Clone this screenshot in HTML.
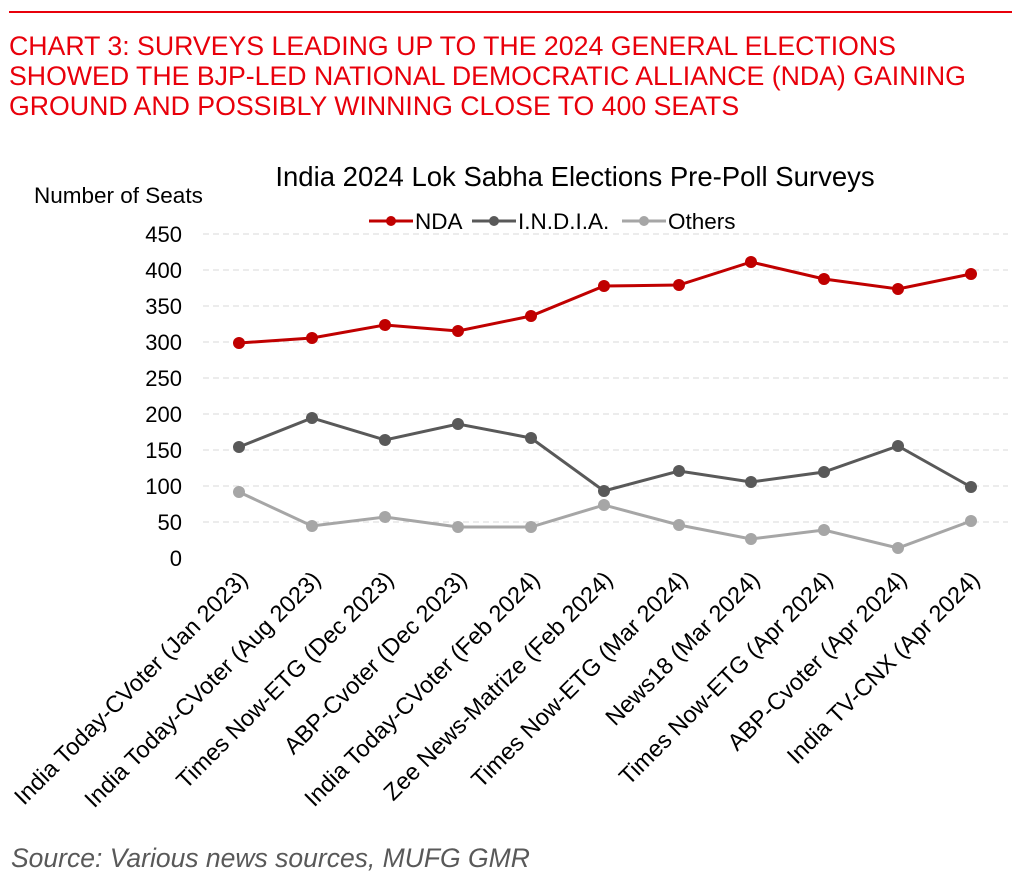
<!DOCTYPE html>
<html><head><meta charset="utf-8"><style>
html,body{margin:0;padding:0;background:#fff;width:1022px;height:893px;overflow:hidden}
svg{display:block;font-family:"Liberation Sans",Arial,sans-serif}
</style></head><body>
<svg width="1022" height="893" viewBox="0 0 1022 893" xmlns="http://www.w3.org/2000/svg">
<line x1="9" y1="12" x2="1012" y2="12" stroke="#e8000b" stroke-width="2"/>
<g fill="#e8000b" font-size="26.7">
<text x="9" y="55">CHART 3: SURVEYS LEADING UP TO THE 2024 GENERAL ELECTIONS</text>
<text x="9" y="85">SHOWED THE BJP-LED NATIONAL DEMOCRATIC ALLIANCE (NDA) GAINING</text>
<text x="9" y="115">GROUND AND POSSIBLY WINNING CLOSE TO 400 SEATS</text>
</g>
<text x="575" y="186" font-size="27.5" text-anchor="middle" fill="#000">India 2024 Lok Sabha Elections Pre-Poll Surveys</text>
<text x="34" y="203" font-size="22.5" fill="#000">Number of Seats</text>
<g font-size="22.5" fill="#000">
<line x1="369" y1="221" x2="413" y2="221" stroke="#c00000" stroke-width="3"/><circle cx="391" cy="221" r="5" fill="#c00000"/>
<text x="415" y="229">NDA</text>
<line x1="472" y1="221" x2="516" y2="221" stroke="#595959" stroke-width="3"/><circle cx="494" cy="221" r="5" fill="#595959"/>
<text x="518" y="229">I.N.D.I.A.</text>
<line x1="622" y1="221" x2="666" y2="221" stroke="#a6a6a6" stroke-width="3"/><circle cx="644" cy="221" r="5" fill="#a6a6a6"/>
<text x="668" y="229">Others</text>
</g>
<g stroke="#d9d9d9" stroke-width="1" stroke-dasharray="6,4">
<line x1="203" y1="234" x2="1008" y2="234"/><line x1="203" y1="270" x2="1008" y2="270"/>
<line x1="203" y1="306" x2="1008" y2="306"/><line x1="203" y1="342" x2="1008" y2="342"/>
<line x1="203" y1="378" x2="1008" y2="378"/><line x1="203" y1="414" x2="1008" y2="414"/>
<line x1="203" y1="450" x2="1008" y2="450"/><line x1="203" y1="486" x2="1008" y2="486"/>
<line x1="203" y1="522" x2="1008" y2="522"/>
</g>
<g font-size="22" fill="#000" text-anchor="end">
<text x="182" y="242">450</text><text x="182" y="278">400</text><text x="182" y="314">350</text>
<text x="182" y="350">300</text><text x="182" y="386">250</text><text x="182" y="422">200</text>
<text x="182" y="458">150</text><text x="182" y="494">100</text><text x="182" y="530">50</text>
<text x="182" y="566">0</text>
</g>
<polyline fill="none" stroke="#a6a6a6" stroke-width="3" points="239,492 312,526 385,517 458,527 531,527 604,505 679,525 751,539 824,530 898,548 971,521"/>
<g fill="#a6a6a6"><circle cx="239" cy="492" r="6"/><circle cx="312" cy="526" r="6"/><circle cx="385" cy="517" r="6"/><circle cx="458" cy="527" r="6"/><circle cx="531" cy="527" r="6"/><circle cx="604" cy="505" r="6"/><circle cx="679" cy="525" r="6"/><circle cx="751" cy="539" r="6"/><circle cx="824" cy="530" r="6"/><circle cx="898" cy="548" r="6"/><circle cx="971" cy="521" r="6"/></g>
<polyline fill="none" stroke="#595959" stroke-width="3" points="239,447 312,418 385,440 458,424 531,438 604,491 679,471 751,482 824,472 898,446 971,487"/>
<g fill="#595959"><circle cx="239" cy="447" r="6"/><circle cx="312" cy="418" r="6"/><circle cx="385" cy="440" r="6"/><circle cx="458" cy="424" r="6"/><circle cx="531" cy="438" r="6"/><circle cx="604" cy="491" r="6"/><circle cx="679" cy="471" r="6"/><circle cx="751" cy="482" r="6"/><circle cx="824" cy="472" r="6"/><circle cx="898" cy="446" r="6"/><circle cx="971" cy="487" r="6"/></g>
<polyline fill="none" stroke="#c00000" stroke-width="3" points="239,343 312,338 385,325 458,331 531,316 604,286 679,285 751,262 824,279 898,289 971,274"/>
<g fill="#c00000"><circle cx="239" cy="343" r="6"/><circle cx="312" cy="338" r="6"/><circle cx="385" cy="325" r="6"/><circle cx="458" cy="331" r="6"/><circle cx="531" cy="316" r="6"/><circle cx="604" cy="286" r="6"/><circle cx="679" cy="285" r="6"/><circle cx="751" cy="262" r="6"/><circle cx="824" cy="279" r="6"/><circle cx="898" cy="289" r="6"/><circle cx="971" cy="274" r="6"/></g>
<g font-size="23.5" fill="#000" text-anchor="end">
<text transform="translate(249,581) rotate(-45)">India Today-CVoter (Jan 2023)</text>
<text transform="translate(322,581) rotate(-45)">India Today-CVoter (Aug 2023)</text>
<text transform="translate(395,581) rotate(-45)">Times Now-ETG (Dec 2023)</text>
<text transform="translate(468,581) rotate(-45)">ABP-Cvoter (Dec 2023)</text>
<text transform="translate(541,581) rotate(-45)">India Today-CVoter (Feb 2024)</text>
<text transform="translate(614,581) rotate(-45)">Zee News-Matrize (Feb 2024)</text>
<text transform="translate(689,581) rotate(-45)">Times Now-ETG (Mar 2024)</text>
<text transform="translate(761,581) rotate(-45)">News18 (Mar 2024)</text>
<text transform="translate(834,581) rotate(-45)">Times Now-ETG (Apr 2024)</text>
<text transform="translate(908,581) rotate(-45)">ABP-Cvoter (Apr 2024)</text>
<text transform="translate(981,581) rotate(-45)">India TV-CNX (Apr 2024)</text>
</g>
<text x="11" y="867" font-size="26.5" font-style="italic" fill="#595959">Source: Various news sources, MUFG GMR</text>
</svg>
</body></html>
